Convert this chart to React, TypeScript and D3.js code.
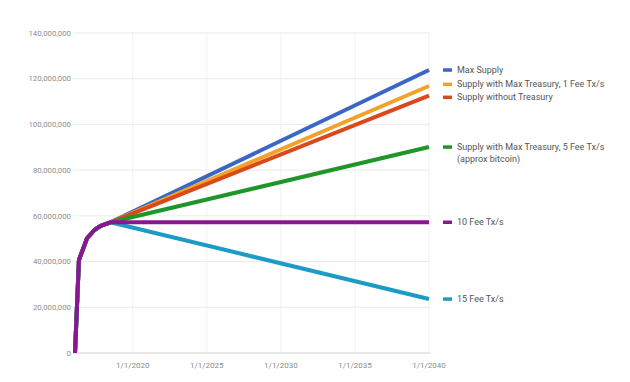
import React from "react";
import * as d3 from "d3";

const W = 630;
const H = 382;

// shared early history (date, supply)
const historyDates = ["2016-02-08", "2016-05-15", "2016-12-01", "2017-06-01", "2017-11-01", "2018-07-01"];
const historyValues = [0, 40700000, 50200000, 53800000, 55600000, 57200000];

const endDate = "2040-01-01";
const seriesNames = [
  "Max Supply",
  "Supply with Max Treasury, 1 Fee Tx/s",
  "Supply without Treasury",
  "Supply with Max Treasury, 5 Fee Tx/s\n(approx bitcoin)",
  "15 Fee Tx/s",
  "10 Fee Tx/s",
];
const seriesEndValues = [123800000, 116800000, 112600000, 90100000, 23600000, 57200000];
const seriesColors = ["#3a66c6", "#f3a229", "#d9491c", "#1f962a", "#1b9bc6", "#8d1594"];

const yTicks = [0, 20000000, 40000000, 60000000, 80000000, 100000000, 120000000, 140000000];
const xTickDates = ["2020-01-01", "2025-01-01", "2030-01-01", "2035-01-01", "2040-01-01"];

const parse = d3.utcParse("%Y-%m-%d");

export default function App() {
  const left = 75, right = 429, top = 33, bottom = 353;
  const x = d3.scaleUtc().domain([parse(historyDates[0])!, parse(endDate)!]).range([left, right]);
  const y = d3.scaleLinear().domain([0, 140000000]).range([bottom, top]);
  const fmtY = d3.format(",");
  const fmtX = d3.utcFormat("%-m/%-d/%Y");

  const line = d3
    .line<[Date, number]>()
    .x((d) => x(d[0]))
    .y((d) => y(d[1]));

  const series = seriesNames.map((name, i) => {
    const pts: [Date, number][] = historyDates.map((d, j) => [parse(d)!, historyValues[j]]);
    pts.push([parse(endDate)!, seriesEndValues[i]]);
    return { name, color: seriesColors[i], pts, end: seriesEndValues[i] };
  });

  // legend placement: at line ends, resolving overlaps by clusters
  const lineH = 11.5;
  const gap = 13;
  type Ent = { idx: number; target: number; h: number; pos: number };
  let ents: Ent[] = series
    .map((s, i) => ({ idx: i, target: y(s.end), h: s.name.split("\n").length, pos: y(s.end) }))
    .sort((a, b) => a.target - b.target);
  // cluster algorithm
  type Cl = { items: Ent[]; start: number };
  let clusters: Cl[] = ents.map((e) => ({ items: [e], start: e.target }));
  const spanOf = (c: Cl) => c.items.reduce((s, e, k) => s + (k < c.items.length - 1 ? gap + (e.h - 1) * lineH : 0), 0);
  const recenter = (c: Cl) => {
    let off = 0;
    let sum = 0;
    c.items.forEach((e) => {
      sum += e.target - off;
      off += gap + (e.h - 1) * lineH;
    });
    c.start = sum / c.items.length;
  };
  let merged = true;
  while (merged) {
    merged = false;
    for (let k = 0; k < clusters.length - 1; k++) {
      const a = clusters[k], b = clusters[k + 1];
      const aLast = a.items[a.items.length - 1];
      const aEnd = a.start + spanOf(a) + (aLast.h - 1) * lineH;
      if (b.start - aEnd < gap) {
        const c = { items: [...a.items, ...b.items], start: 0 };
        recenter(c);
        clusters.splice(k, 2, c);
        merged = true;
        break;
      }
    }
  }
  clusters.forEach((c) => {
    let off = 0;
    c.items.forEach((e) => {
      e.pos = c.start + off;
      off += gap + (e.h - 1) * lineH;
    });
  });

  return (
    <svg
      width={W}
      height={H}
      style={{ position: "absolute", left: 0, top: 0, background: "#fff" }}
      fontFamily="Roboto, Arial, sans-serif"
    >
      <rect width={W} height={H} fill="#fff" />
      {/* vertical gridlines */}
      {xTickDates.map((d) => (
        <line key={d} x1={x(parse(d)!)} x2={x(parse(d)!)} y1={top} y2={bottom} stroke="#f0f0f0" strokeWidth={1} />
      ))}
      {/* horizontal gridlines */}
      {yTicks.map((t) => (
        <line
          key={t}
          x1={left - 2}
          x2={right + 1}
          y1={y(t)}
          y2={y(t)}
          stroke={t === 0 ? "#cfcfcf" : "#ebebeb"}
          strokeWidth={1}
        />
      ))}
      {yTicks.map((t) => (
        <text key={"yl" + t} x={71} y={y(t)} dy="0.35em" textAnchor="end" fontSize={7.8} fill="#8c8c8c">
          {fmtY(t)}
        </text>
      ))}
      {xTickDates.map((d) => (
        <text key={"xl" + d} x={x(parse(d)!)} y={bottom + 15} textAnchor="middle" fontSize={8} fill="#8c8c8c">
          {fmtX(parse(d)!)}
        </text>
      ))}
      {series.map((s) => (
        <path
          key={s.name}
          d={line(s.pts)!}
          fill="none"
          stroke={s.color}
          strokeWidth={4}
          strokeLinejoin="round"
          strokeLinecap="butt"
        />
      ))}
      {ents.map((e) => {
        const s = series[e.idx];
        const lines = s.name.split("\n");
        return (
          <g key={"lg" + e.idx}>
            <line x1={443} x2={452} y1={e.pos} y2={e.pos} stroke={s.color} strokeWidth={3.5} />
            <text x={457} y={e.pos} dy="0.35em" fontSize={9} fill="#555">
              {lines.map((l, k) => (
                <tspan key={k} x={457} dy={k === 0 ? "0.35em" : lineH}>
                  {l}
                </tspan>
              ))}
            </text>
          </g>
        );
      })}
    </svg>
  );
}
